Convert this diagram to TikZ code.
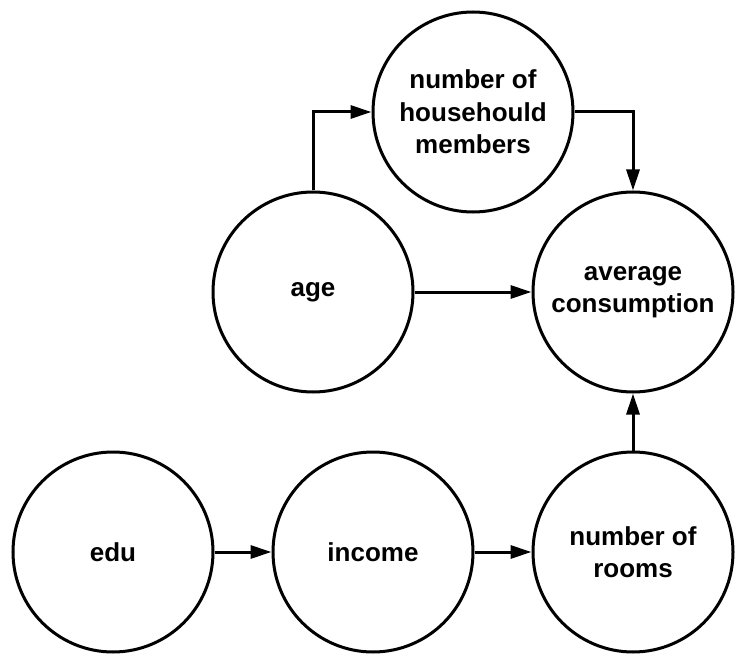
\documentclass[tikz,border=0pt]{standalone}
\usepackage{fontspec}
\setmainfont{Liberation Sans}
\usetikzlibrary{arrows.meta}
\begin{document}
\begin{tikzpicture}[x=1pt,y=-1pt,
  var/.style={circle,draw=black,line width=3pt,minimum size=200pt,inner sep=0pt,
    align=center,font=\fontsize{26}{32.5}\selectfont\bfseries},
  link/.style={line width=3pt,-{Triangle[length=21pt,width=13pt]}}]
\useasboundingbox (0,0) rectangle (750,666);
\node[var] (hh) at (473,112) {number of\\househould\\members};
\node[var] (age) at (313,292) {age};
\node[var] (avg) at (633,292) {average\\consumption};
\node[var] (edu) at (113,552) {edu};
\node[var] (inc) at (373,552) {income};
\node[var] (rooms) at (633,552) {number of\\rooms};
\draw[link] (age.north) |- (hh.west);
\draw[link] (hh.east) -| (avg.north);
\draw[link] (age.east) -- (avg.west);
\draw[link] (edu.east) -- (inc.west);
\draw[link] (inc.east) -- (rooms.west);
\draw[link] (rooms.north) -- (avg.south);
\end{tikzpicture}
\end{document}
